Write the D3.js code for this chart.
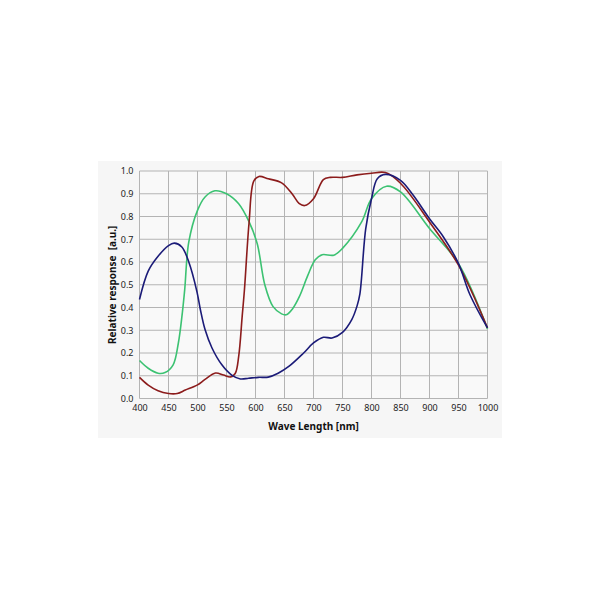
<!DOCTYPE html>
<html>
<head>
<meta charset="utf-8">
<script src="https://d3js.org/d3.v7.min.js"></script>
<style>
  body { margin: 0; background: #fff; }
  text { font-family: "Noto Sans", "Open Sans", sans-serif; }
</style>
</head>
<body>
<div id="graph"></div>
<script>
// spectral response
var xTicks = [400, 450, 500, 550, 600, 650, 700, 750, 800, 850, 900, 950, 1000];
var yTicks = [0.0, 0.1, 0.2, 0.3, 0.4, 0.5, 0.6, 0.7, 0.8, 0.9, 1.0];

var blueData = [[400,0.435],[415,0.56],[432,0.625],[450,0.672],[460,0.683],[473,0.666],[485,0.6],
  [499,0.47],[505,0.39],[513,0.303],[525,0.222],[542,0.148],[559,0.103],[574,0.086],[588,0.089],
  [605,0.093],[622,0.094],[639,0.111],[658,0.142],[683,0.2],[700,0.244],[717,0.269],[732,0.266],
  [750,0.291],[766,0.347],[775,0.406],[780,0.46],[790,0.746],[800,0.878],[810,0.966],[824,0.985],
  [850,0.959],[872,0.893],[900,0.79],[924,0.71],[950,0.593],[970,0.455],[1000,0.31]];

var redData = [[400,0.093],[415,0.059],[432,0.034],[450,0.022],[465,0.022],[479,0.037],[500,0.06],
  [513,0.084],[531,0.112],[545,0.103],[557,0.095],[565,0.11],[571,0.185],[577,0.36],[581,0.48],
  [589,0.776],[597,0.955],[606,0.976],[622,0.966],[645,0.948],[663,0.9],[675,0.858],[685,0.848],
  [700,0.878],[717,0.962],[729,0.972],[750,0.972],[775,0.983],[800,0.99],[824,0.993],[850,0.946],
  [900,0.776],[950,0.586],[1000,0.31]];

var greenData = [[400,0.167],[415,0.133],[432,0.111],[444,0.114],[458,0.148],[467,0.244],[474,0.38],
  [478,0.48],[485,0.688],[500,0.827],[513,0.886],[530,0.913],[550,0.9],[571,0.856],[589,0.776],
  [603,0.68],[616,0.5],[630,0.405],[645,0.372],[653,0.368],[664,0.395],[676,0.45],[690,0.54],
  [703,0.61],[715,0.632],[735,0.63],[750,0.66],[783,0.776],[800,0.878],[826,0.933],[850,0.908],
  [900,0.747],[950,0.593],[1000,0.306]];

var width = 600;
var height = 600;

var svg = d3.select("#graph")
  .append("svg")
    .attr("width", width)
    .attr("height", height);

// light panel behind the chart
svg.append("rect")
    .attr("x", 98)
    .attr("y", 161)
    .attr("width", 404)
    .attr("height", 277)
    .attr("fill", "#f6f6f6");

var x = d3.scaleLinear().domain([400, 1000]).range([139.5, 487.5]);
var y = d3.scaleLinear().domain([0, 1]).range([398.5, 171]);

svg.append("rect")
    .attr("x", x(400))
    .attr("y", y(1))
    .attr("width", x(1000) - x(400))
    .attr("height", y(0) - y(1))
    .attr("fill", "#f9f9f9");

// grid
svg.append("g")
    .attr("class", "grid")
    .selectAll("line.v")
    .data(xTicks)
    .enter()
      .append("line")
      .attr("x1", function(d) { return x(d); })
      .attr("x2", function(d) { return x(d); })
      .attr("y1", y(0))
      .attr("y2", y(1))
      .style("stroke", "#b4b4b4")
      .style("stroke-width", 1);

svg.append("g")
    .attr("class", "grid")
    .selectAll("line.h")
    .data(yTicks)
    .enter()
      .append("line")
      .attr("x1", x(400))
      .attr("x2", x(1000))
      .attr("y1", function(d) { return y(d); })
      .attr("y2", function(d) { return y(d); })
      .style("stroke", "#b4b4b4")
      .style("stroke-width", 1);

// axes (labels only, the grid carries the lines)
var xAxis = svg.append("g")
    .attr("transform", "translate(0," + y(0) + ")")
    .call(d3.axisBottom(x).tickValues(xTicks).tickSize(0).tickPadding(6).tickFormat(d3.format("d")));
var yAxis = svg.append("g")
    .attr("transform", "translate(" + x(400) + ",0)")
    .call(d3.axisLeft(y).tickValues(yTicks).tickSize(0).tickPadding(6).tickFormat(d3.format(".1f")));

[xAxis, yAxis].forEach(function(a) {
  a.select(".domain").remove();
  a.selectAll("text")
      .style("font-family", "'Noto Sans', sans-serif")
      .style("font-size", "9px")
      .attr("fill", "#222");
});

svg.append("text")
    .attr("x", (x(400) + x(1000)) / 2)
    .attr("y", 430)
    .attr("text-anchor", "middle")
    .style("font-size", "10px")
    .style("font-weight", "bold")
    .attr("fill", "#111")
    .text("Wave Length [nm]");

svg.append("text")
    .attr("transform", "translate(116," + ((y(0) + y(1)) / 2) + ") rotate(-90)")
    .attr("text-anchor", "middle")
    .style("font-size", "10px")
    .style("font-weight", "bold")
    .style("white-space", "pre")
    .attr("fill", "#111")
    .text("Relative response  [a.u.]");

var line = d3.line()
    .x(function(d) { return x(d[0]); })
    .y(function(d) { return y(d[1]); })
    .curve(d3.curveCatmullRom.alpha(0.5));

var series = [
  { name: "green", data: greenData, color: "#3cc272" },
  { name: "red",   data: redData,   color: "#8c1c1c" },
  { name: "blue",  data: blueData,  color: "#1b1b78" }
];

svg.append("g")
    .attr("class", "lines")
    .selectAll("path")
    .data(series)
    .enter()
      .append("path")
      .attr("d", function(d) { return line(d.data); })
      .attr("fill", "none")
      .attr("stroke", function(d) { return d.color; })
      .attr("stroke-width", 1.6);
</script>
</body>
</html>
